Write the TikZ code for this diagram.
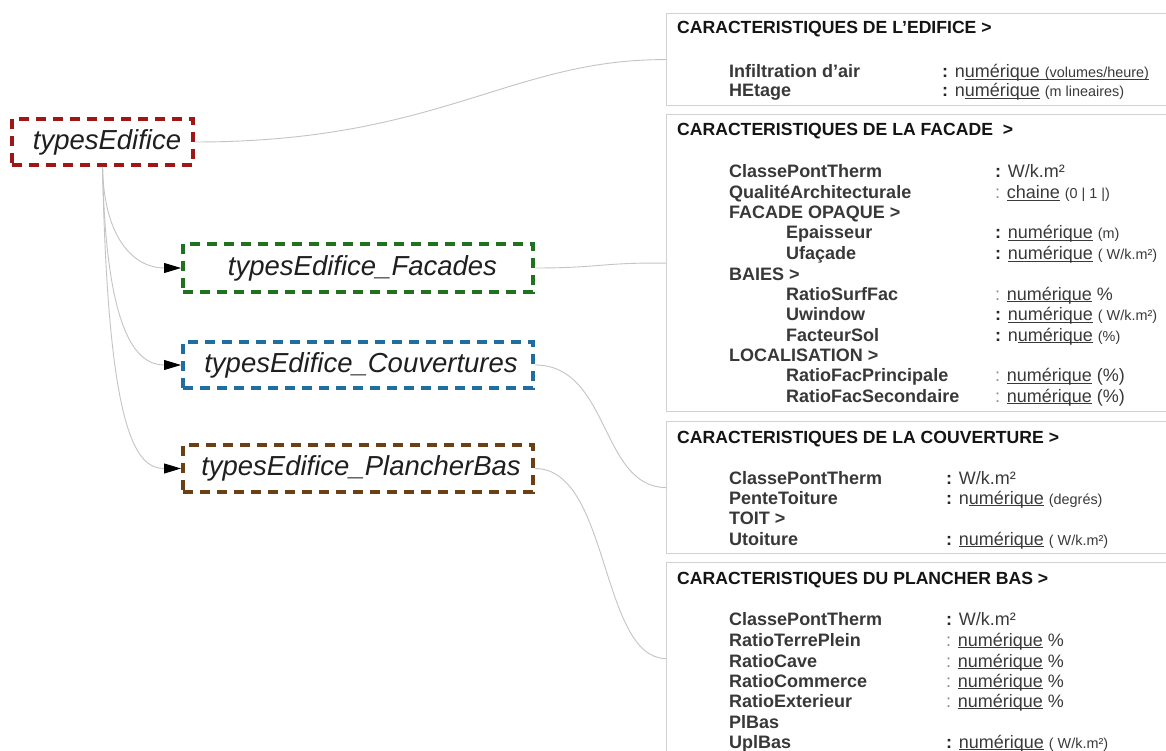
\documentclass[tikz,border=0pt]{standalone}
\usepackage{fontspec}
\setmainfont{Liberation Sans}
\usetikzlibrary{arrows.meta}
\definecolor{cred}{HTML}{9E1616}
\definecolor{cgreen}{HTML}{1F7320}
\definecolor{cblue}{HTML}{1E6FA0}
\definecolor{cbrown}{HTML}{6B4015}
\definecolor{panelline}{HTML}{D2D2D2}
\definecolor{connc}{HTML}{C4C4C4}
\definecolor{fieldc}{HTML}{383838}
\definecolor{valc}{HTML}{3A3A3A}
\definecolor{lightc}{HTML}{8A8A8A}
\newcommand{\vsm}[1]{{\fontsize{14.4}{17}\selectfont #1}}
\newcommand{\lc}{{\color{lightc}:}}
\newcommand{\dc}{{\bfseries\color{black!85}:}}
\newcommand{\undl}[1]{\setbox0=\hbox{#1}\rlap{\rule[-2.4pt]{\wd0}{1pt}}\box0\relax}
\tikzset{
  typebox/.style={draw, line width=4pt, dash pattern=on 10pt off 7pt, fill=white,
    font=\fontsize{27.5}{31}\selectfont\itshape, text=black!88, inner sep=0pt},
  panel/.style={draw=panelline, line width=1.2pt, fill=white, anchor=north west,
    inner sep=0pt, minimum width=530pt},
  ttlt/.style={anchor=base west, inner sep=0pt, font=\fontsize{17.6}{20}\selectfont\bfseries, text=black!92},
  fld/.style={anchor=base west, inner sep=0pt, font=\fontsize{18}{20}\selectfont\bfseries, text=fieldc},
  val/.style={anchor=base west, inner sep=0pt, font=\fontsize{18}{20}\selectfont, text=valc},
  connline/.style={draw=connc, line width=0.9pt},
  arrline/.style={connline, -{Triangle[length=17pt,width=10pt,color=black]}}
}
\begin{document}
\begin{tikzpicture}[x=1pt,y=-1pt]
\useasboundingbox[fill=white] (0,0) rectangle (1166,751);

% panels
\node[panel, minimum height=92pt]  (b1) at (666,13) {};
\node[panel, minimum height=297pt] (b2) at (666,114) {};
\node[panel, minimum height=132pt] (b3) at (666,421) {};
\node[panel, minimum height=192pt] (b4) at (666,562) {};

% type nodes
\node[typebox, draw=cred, minimum width=181pt, minimum height=46pt] (te) at (102.5,142) {\hspace{9pt}typesEdifice};
\node[typebox, draw=cgreen, minimum width=350pt, minimum height=48pt] (tf) at (358,268) {\hspace{9pt}typesEdifice\_Facades};
\node[typebox, draw=cblue, minimum width=350pt, minimum height=46pt] (tc) at (358,365) {\hspace{6pt}typesEdifice\_Couvertures};
\node[typebox, draw=cbrown, minimum width=350pt, minimum height=47pt] (tp) at (358,468.5) {\hspace{6pt}typesEdifice\_PlancherBas};

% connectors
\draw[connline] (te.east) .. controls (440,142) and (510,59) .. (b1.west);
\draw[connline] (tf.east) .. controls (600,268) and (600,262.5) .. (b2.west);
\draw[connline] (tc.east) .. controls (610,365) and (600,487) .. (b3.west);
\draw[connline] (tp.east) .. controls (610,468.5) and (600,658) .. (b4.west);
\draw[arrline] (te.south) .. controls (104,240) and (135,268) .. (tf.west);
\draw[arrline] (te.south) .. controls (106,330) and (135,365) .. (tc.west);
\draw[arrline] (te.south) .. controls (108,430) and (135,468.5) .. (tp.west);

% box 1
\node[ttlt] (t1) at (677,34) {CARACTERISTIQUES DE L'EDIFICE >};
\node[fld] (f11) at (729,78) {Infiltration d'air};
\node[val] (v11) at (942,78) {\dc{} n\undl{umérique \vsm{(volumes/heure)}}};
\node[fld] (f12) at (729,97) {HEtage};
\node[val] (v12) at (942,97) {\dc{} n\undl{umérique} \vsm{(m lineaires)}};

% box 2
\node[ttlt] (t2) at (677,136) {CARACTERISTIQUES DE LA FACADE \ >};
\node[fld] (f21) at (729,178) {ClassePontTherm};
\node[val] (v21) at (995,178) {\dc{} W/k.m²};
\node[fld] (f22) at (729,198.5) {QualitéArchitecturale};
\node[val] (v22) at (995,198.5) {\lc{} \undl{chaine} \vsm{(0 | 1 |)}};
\node[fld] (f23) at (729,219) {FACADE OPAQUE >};
\node[fld] (f24) at (786,239) {Epaisseur};
\node[val] (v24) at (995,239) {\dc{} \undl{numérique} \vsm{(m)}};
\node[fld] (f25) at (786,259.5) {Ufaçade};
\node[val] (v25) at (995,259.5) {\dc{} \undl{numérique} \vsm{( W/k.m²)}};
\node[fld] (f26) at (729,280) {BAIES >};
\node[fld] (f27) at (786,300) {RatioSurfFac};
\node[val] (v27) at (995,300) {\lc{} \undl{numérique} \%};
\node[fld] (f28) at (786,320.5) {Uwindow};
\node[val] (v28) at (995,320.5) {\dc{} \undl{numérique} \vsm{( W/k.m²)}};
\node[fld] (f29) at (786,341) {FacteurSol};
\node[val] (v29) at (995,341) {\dc{} n\undl{umérique} \vsm{(\%)}};
\node[fld] (f210) at (729,361) {LOCALISATION >};
\node[fld] (f211) at (786,381.5) {RatioFacPrincipale};
\node[val] (v211) at (995,381.5) {\lc{} \undl{numérique} (\%)};
\node[fld] (f212) at (786,402) {RatioFacSecondaire};
\node[val] (v212) at (995,402) {\lc{} \undl{numérique} (\%)};

% box 3
\node[ttlt] (t3) at (677,443) {CARACTERISTIQUES DE LA COUVERTURE >};
\node[fld] (f31) at (729,484) {ClassePontTherm};
\node[val] (v31) at (946,484) {\dc{} W/k.m²};
\node[fld] (f32) at (729,504) {PenteToiture};
\node[val] (v32) at (946,504) {\dc{} n\undl{umérique} \vsm{(degrés)}};
\node[fld] (f33) at (729,524) {TOIT >};
\node[fld] (f34) at (729,545) {Utoiture};
\node[val] (v34) at (946,545) {\dc{} \undl{numérique} \vsm{( W/k.m²)}};

% box 4
\node[ttlt] (t4) at (677,584) {CARACTERISTIQUES DU PLANCHER BAS >};
\node[fld] (f41) at (729,625) {ClassePontTherm};
\node[val] (v41) at (946,625) {\dc{} W/k.m²};
\node[fld] (f42) at (729,646) {RatioTerrePlein};
\node[val] (v42) at (946,646) {\lc{} \undl{numérique} \%};
\node[fld] (f43) at (729,667) {RatioCave};
\node[val] (v43) at (946,667) {\lc{} \undl{numérique} \%};
\node[fld] (f44) at (729,687) {RatioCommerce};
\node[val] (v44) at (946,687) {\lc{} \undl{numérique} \%};
\node[fld] (f45) at (729,707) {RatioExterieur};
\node[val] (v45) at (946,707) {\lc{} \undl{numérique} \%};
\node[fld] (f46) at (729,728) {PlBas};
\node[fld] (f47) at (729,748) {UplBas};
\node[val] (v47) at (946,748) {\dc{} \undl{numérique} \vsm{( W/k.m²)}};
\end{tikzpicture}
\end{document}
